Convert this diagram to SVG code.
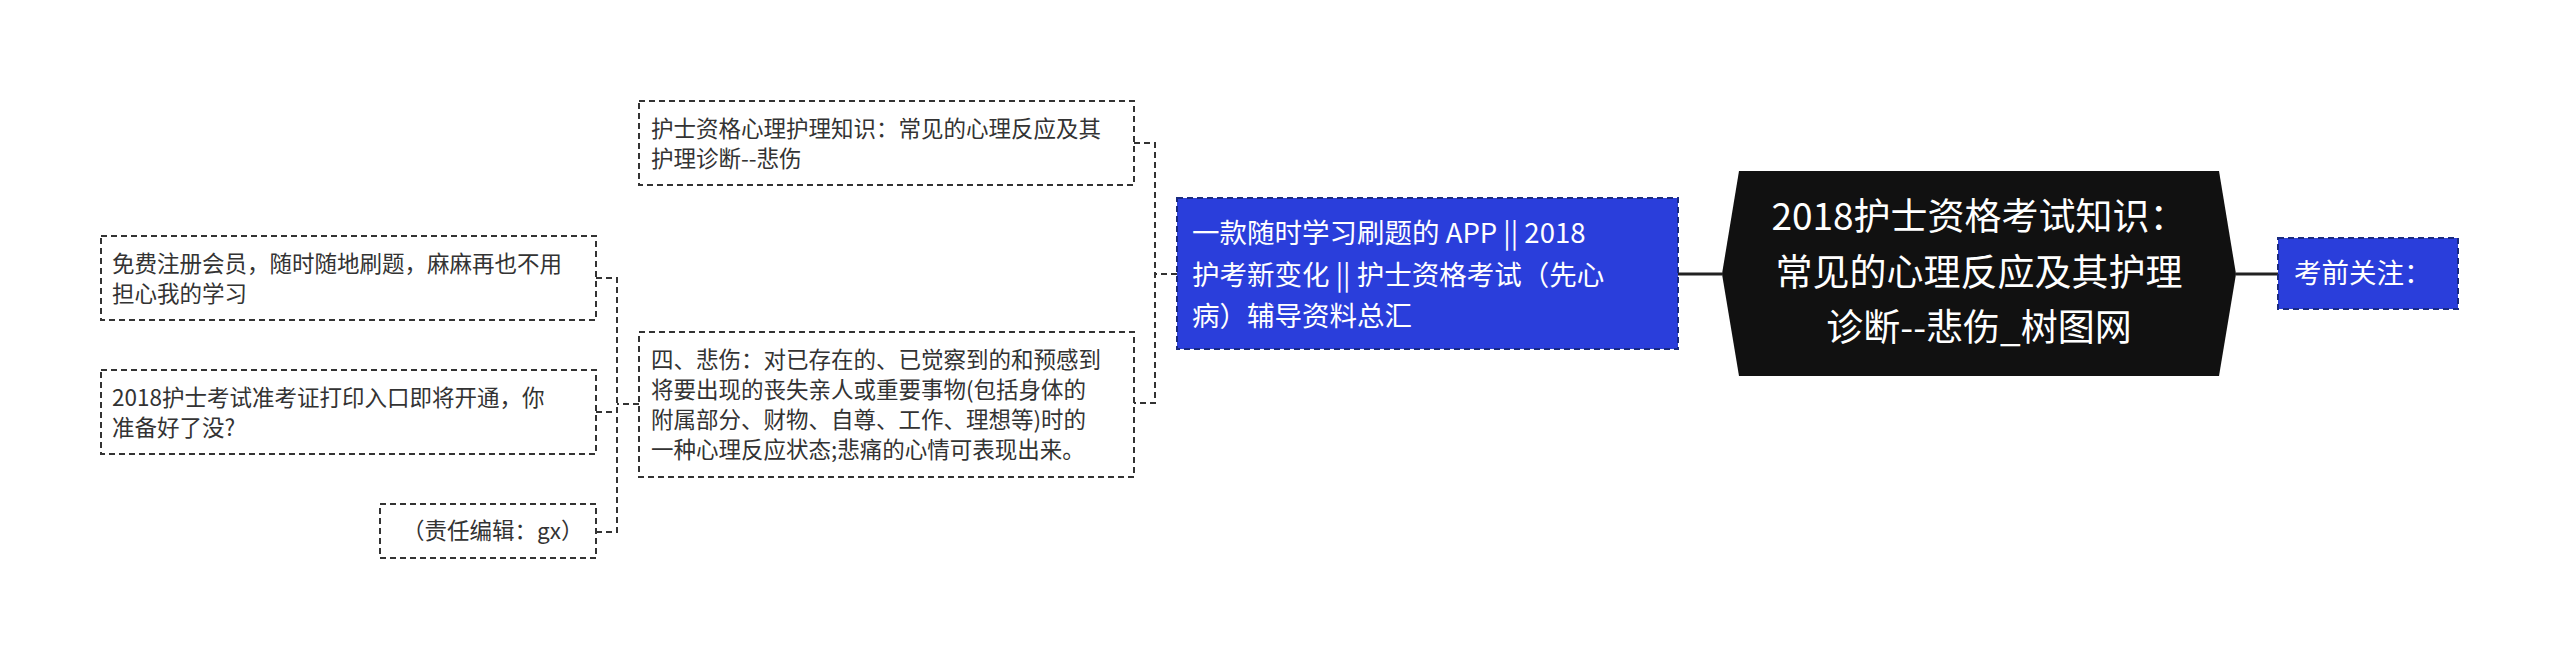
<svg xmlns="http://www.w3.org/2000/svg" width="2560" height="659" viewBox="0 0 2560 659">
<style>
.box{fill:#fff;stroke:#333;stroke-width:2;stroke-dasharray:6,4}
.blue{fill:#2a3edb;stroke:#1a2a80;stroke-width:2;stroke-dasharray:6,4}
.t{font-family:"Noto Sans CJK SC","Noto Sans",sans-serif;font-size:22.5px;fill:#333}
.w{font-family:"Noto Sans CJK SC","Noto Sans",sans-serif;font-size:27.5px;fill:#fff}
.c{font-family:"Noto Sans CJK SC","Noto Sans",sans-serif;font-size:37px;fill:#fff;text-anchor:middle}
.ln{fill:none;stroke:#333;stroke-width:2;stroke-dasharray:6,4}
.main{fill:none;stroke:#222;stroke-width:3}
</style>
<rect width="2560" height="659" fill="#fff"/>
<g id="connectors">
<path class="main" d="M1678,274 H1722 M2236,274 H2278"/>
<path class="ln" d="M1177,274 H1155 M1134,143 H1155 V403 H1134"/>
<path class="ln" d="M639,404 H617 M596,278 H617 V532 H596 M596,412 H617"/>
</g>
<g id="root">
<polygon points="1722,274 1739,171 2219,171 2236,274 2219,376 1739,376" fill="#111"/>
<text class="c" x="1979" y="230">2018护士资格考试知识：</text>
<text class="c" x="1979" y="286">常见的心理反应及其护理</text>
<text class="c" x="1979" y="341">诊断--悲伤_树图网</text>
</g>
<g id="n-right">
<rect class="blue" x="2278" y="238" width="180" height="71"/>
<text class="w" x="2294" y="283">考前关注：</text>
</g>
<g id="n-app">
<rect class="blue" x="1177" y="198" width="501" height="151"/>
<text class="w" x="1192" y="243">一款随时学习刷题的 APP || 2018</text>
<text class="w" x="1192" y="285">护考新变化 || 护士资格考试（先心</text>
<text class="w" x="1192" y="326">病）辅导资料总汇</text>
</g>
<g id="n-top">
<rect class="box" x="639" y="101" width="495" height="84"/>
<text class="t" x="651" y="137">护士资格心理护理知识：常见的心理反应及其</text>
<text class="t" x="651" y="167">护理诊断--悲伤</text>
</g>
<g id="n-four">
<rect class="box" x="639" y="332" width="495" height="145"/>
<text class="t" x="651" y="368">四、悲伤：对已存在的、已觉察到的和预感到</text>
<text class="t" x="651" y="398">将要出现的丧失亲人或重要事物(包括身体的</text>
<text class="t" x="651" y="428">附属部分、财物、自尊、工作、理想等)时的</text>
<text class="t" x="651" y="458">一种心理反应状态;悲痛的心情可表现出来。</text>
</g>
<g id="n-free">
<rect class="box" x="101" y="236" width="495" height="84"/>
<text class="t" x="112" y="272">免费注册会员，随时随地刷题，麻麻再也不用</text>
<text class="t" x="112" y="302">担心我的学习</text>
</g>
<g id="n-2018">
<rect class="box" x="101" y="370" width="495" height="84"/>
<text class="t" x="112" y="406">2018护士考试准考证打印入口即将开通，你</text>
<text class="t" x="112" y="436">准备好了没?</text>
</g>
<g id="n-editor">
<rect class="box" x="380" y="504" width="216" height="54"/>
<text class="t" x="402" y="539">（责任编辑：gx）</text>
</g>
</svg>
